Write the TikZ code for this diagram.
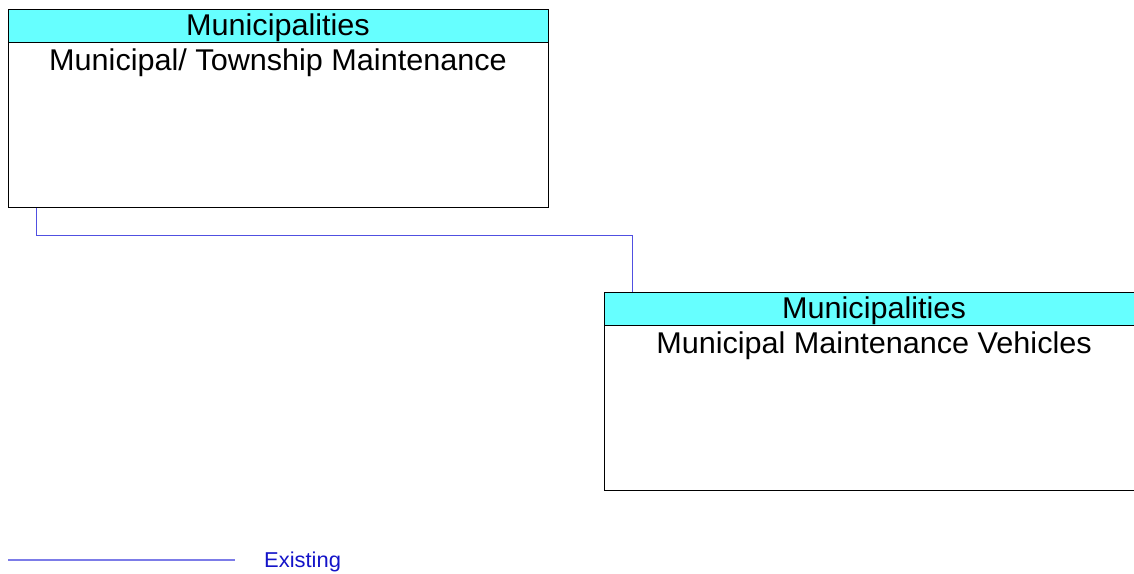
\documentclass[tikz,border=0pt]{standalone}
\usepackage{fontspec}
\setmainfont{Liberation Sans}[FakeStretch=1.02]
\definecolor{hdr}{RGB}{102,255,255}
\definecolor{conn}{RGB}{80,80,225}
\definecolor{legtxt}{RGB}{20,20,200}
\tikzset{
  boxbody/.style={draw=black, line width=0.9pt, fill=white, anchor=north west, inner sep=0pt},
  boxhead/.style={draw=black, line width=0.9pt, fill=hdr, anchor=north west, inner sep=0pt, minimum height=33pt},
  big/.style={font=\fontsize{30}{34}\selectfont, anchor=base, inner sep=0pt},
  connector/.style={draw=conn, line width=1pt},
}
\begin{document}
\begin{tikzpicture}[x=1pt,y=-1pt]
\useasboundingbox (0,0) rectangle (1134,573);
% box 1
\node[boxbody, minimum width=540pt, minimum height=198pt] (m1) at (8,9) {};
\node[boxhead, minimum width=540pt] (m1h) at (8,9) {};
\node[big] (m1t) at (278,35) {Municipalities};
\node[big] (m1n) at (278,70) {Municipal/ Township Maintenance};
% box 2
\node[boxbody, minimum width=540pt, minimum height=198pt] (m2) at (604,292) {};
\node[boxhead, minimum width=540pt] (m2h) at (604,292) {};
\node[big] (m2t) at (874,318) {Municipalities};
\node[big] (m2n) at (874,353) {Municipal Maintenance Vehicles};
% connector
\draw[connector] ([xshift=28pt]m1.south west) -- ++(0,28) -| ([xshift=28pt]m2h.north west);
% legend
\coordinate (l1) at (8,560);
\coordinate (l2) at (235,560);
\draw[draw=conn!75, line width=1.2pt] (l1) -- (l2);
\node[font=\fontsize{21.5}{24}\selectfont, text=legtxt, anchor=base west, inner sep=0pt] (leg) at (264,567) {Existing};
\end{tikzpicture}
\end{document}
